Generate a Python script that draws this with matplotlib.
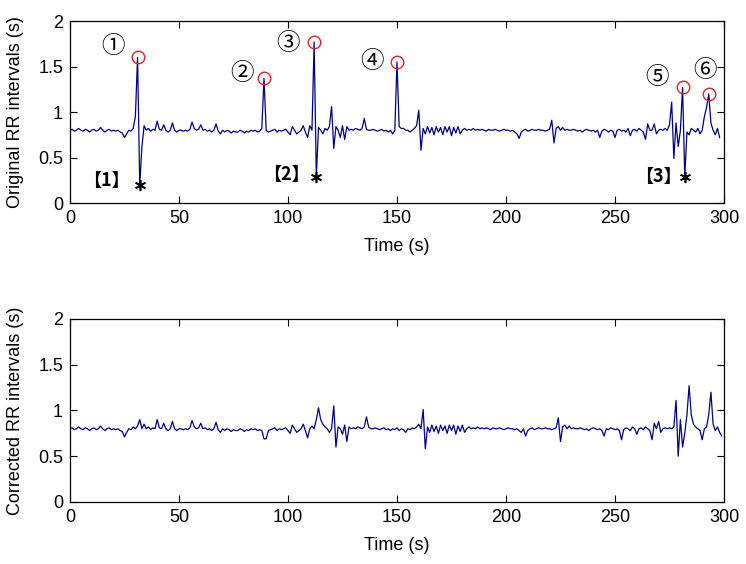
import numpy as np
import matplotlib
matplotlib.use("Agg")
import matplotlib.pyplot as plt

plt.rcParams['font.family'] = ['Liberation Sans', 'DejaVu Sans']

# original RR intervals (s), one value per second, t = 0..298
rr_original = [
    0.80, 0.81, 0.79, 0.80, 0.82, 0.80, 0.79, 0.81, 0.80, 0.78,
    0.80, 0.81, 0.79, 0.80, 0.83, 0.80, 0.78, 0.80, 0.81, 0.79,
    0.80, 0.79, 0.80, 0.78, 0.77, 0.72, 0.76, 0.80, 0.79, 0.82,
    0.95, 1.60, 0.20, 0.62, 0.85, 0.80, 0.82, 0.79, 0.81, 0.80,
    0.90, 0.81, 0.80, 0.86, 0.80, 0.78, 0.80, 0.88, 0.80, 0.78,
    0.80, 0.80, 0.79, 0.80, 0.79, 0.81, 0.89, 0.82, 0.80, 0.81,
    0.86, 0.80, 0.81, 0.79, 0.80, 0.78, 0.80, 0.87, 0.79, 0.76,
    0.80, 0.78, 0.80, 0.79, 0.77, 0.79, 0.78, 0.78, 0.80, 0.79,
    0.77, 0.79, 0.78, 0.80, 0.79, 0.80, 0.78, 0.79, 0.82, 1.37,
    0.80, 0.78, 0.79, 0.80, 0.81, 0.78, 0.80, 0.79, 0.80, 0.81,
    0.78, 0.75, 0.84, 0.80, 0.76, 0.78, 0.80, 0.85, 0.78, 0.72,
    0.85, 0.80, 1.77, 0.29, 0.83, 0.80, 0.76, 0.82, 0.80, 0.84,
    1.06, 0.60, 0.84, 0.80, 0.72, 0.85, 0.70, 0.84, 0.80, 0.81,
    0.80, 0.82, 0.81, 0.80, 0.82, 0.93, 0.81, 0.80, 0.80, 0.81,
    0.80, 0.79, 0.80, 0.81, 0.79, 0.80, 0.78, 0.80, 0.76, 0.80,
    1.55, 0.84, 0.82, 0.82, 0.80, 0.80, 0.78, 0.80, 0.82, 0.85,
    1.02, 0.58, 0.82, 0.76, 0.84, 0.77, 0.83, 0.75, 0.84, 0.78,
    0.83, 0.75, 0.84, 0.78, 0.84, 0.74, 0.83, 0.77, 0.84, 0.76,
    0.80, 0.82, 0.80, 0.81, 0.80, 0.82, 0.80, 0.81, 0.80, 0.81,
    0.80, 0.79, 0.81, 0.80, 0.80, 0.81, 0.80, 0.79, 0.80, 0.81,
    0.80, 0.80, 0.79, 0.80, 0.78, 0.76, 0.71, 0.78, 0.80, 0.81,
    0.79, 0.80, 0.81, 0.80, 0.80, 0.81, 0.80, 0.80, 0.79, 0.80,
    0.81, 0.91, 0.66, 0.82, 0.84, 0.80, 0.83, 0.80, 0.81, 0.80,
    0.80, 0.81, 0.80, 0.79, 0.80, 0.78, 0.80, 0.81, 0.80, 0.79,
    0.80, 0.78, 0.80, 0.72, 0.79, 0.81, 0.80, 0.78, 0.80, 0.79,
    0.72, 0.80, 0.81, 0.79, 0.80, 0.78, 0.82, 0.74, 0.80, 0.81,
    0.79, 0.82, 0.80, 0.78, 0.70, 0.87, 0.80, 0.80, 0.87, 0.76,
    0.80, 0.81, 0.80, 0.82, 0.80, 0.86, 1.11, 0.49, 0.88, 0.62,
    0.80, 1.27, 0.29, 0.78, 0.75, 0.82, 0.80, 0.78, 0.82, 0.76,
    0.80, 0.95, 1.05, 1.20, 0.88, 0.80, 0.75, 0.82, 0.72,
]

# corrected RR intervals (s), t = 0..299
rr_corrected = [
    0.80, 0.81, 0.79, 0.80, 0.82, 0.80, 0.79, 0.81, 0.80, 0.78,
    0.80, 0.81, 0.79, 0.80, 0.83, 0.80, 0.78, 0.80, 0.81, 0.79,
    0.80, 0.79, 0.80, 0.78, 0.77, 0.71, 0.76, 0.80, 0.79, 0.82,
    0.80, 0.83, 0.90, 0.80, 0.85, 0.80, 0.82, 0.79, 0.81, 0.80,
    0.90, 0.81, 0.80, 0.86, 0.80, 0.78, 0.80, 0.88, 0.80, 0.78,
    0.80, 0.80, 0.79, 0.80, 0.79, 0.81, 0.89, 0.82, 0.80, 0.81,
    0.86, 0.80, 0.81, 0.79, 0.80, 0.78, 0.80, 0.87, 0.79, 0.76,
    0.80, 0.78, 0.80, 0.79, 0.77, 0.79, 0.78, 0.78, 0.80, 0.79,
    0.77, 0.79, 0.78, 0.80, 0.79, 0.80, 0.78, 0.79, 0.78, 0.69,
    0.69, 0.78, 0.79, 0.80, 0.81, 0.78, 0.80, 0.79, 0.80, 0.81,
    0.78, 0.75, 0.84, 0.80, 0.76, 0.78, 0.80, 0.85, 0.78, 0.70,
    0.80, 0.83, 0.80, 0.90, 1.03, 0.90, 0.85, 0.82, 0.80, 0.76,
    0.80, 1.05, 0.60, 0.82, 0.80, 0.74, 0.84, 0.66, 0.82, 0.80,
    0.81, 0.80, 0.82, 0.81, 0.80, 0.82, 0.93, 0.82, 0.80, 0.80,
    0.81, 0.80, 0.79, 0.80, 0.81, 0.79, 0.80, 0.78, 0.80, 0.79,
    0.81, 0.78, 0.80, 0.79, 0.76, 0.80, 0.79, 0.81, 0.80, 0.82,
    0.85, 0.80, 1.01, 0.58, 0.82, 0.76, 0.84, 0.77, 0.83, 0.75,
    0.84, 0.78, 0.83, 0.75, 0.84, 0.78, 0.84, 0.74, 0.83, 0.77,
    0.84, 0.76, 0.80, 0.82, 0.80, 0.81, 0.80, 0.82, 0.80, 0.81,
    0.80, 0.81, 0.80, 0.79, 0.81, 0.80, 0.80, 0.81, 0.80, 0.79,
    0.80, 0.81, 0.80, 0.80, 0.79, 0.80, 0.78, 0.76, 0.80, 0.72,
    0.78, 0.80, 0.81, 0.79, 0.80, 0.81, 0.80, 0.80, 0.81, 0.80,
    0.80, 0.79, 0.80, 0.81, 0.92, 0.66, 0.82, 0.84, 0.80, 0.83,
    0.80, 0.81, 0.80, 0.80, 0.81, 0.80, 0.79, 0.80, 0.78, 0.80,
    0.81, 0.80, 0.79, 0.80, 0.78, 0.72, 0.80, 0.79, 0.81, 0.80,
    0.79, 0.80, 0.78, 0.68, 0.79, 0.81, 0.80, 0.78, 0.82, 0.80,
    0.74, 0.80, 0.81, 0.79, 0.82, 0.80, 0.78, 0.68, 0.86, 0.80,
    0.88, 0.76, 0.80, 0.81, 0.80, 0.81, 0.80, 0.82, 1.11, 0.50,
    0.90, 0.60, 0.75, 0.95, 1.27, 0.95, 0.85, 0.82, 0.80, 0.78,
    0.68, 0.80, 0.82, 0.95, 1.20, 0.85, 0.78, 0.82, 0.76, 0.72,
]

# detected artefacts (sample index in rr_original)
long_idx = [31, 89, 112, 150, 281, 293]
short_idx = [32, 113, 282]

long_labels = ["①", "②", "③", "④", "⑤", "⑥"]
long_label_pos = [(19.9, 1.72), (78.8, 1.425), (100.2, 1.755),
                  (138.4, 1.55), (269.1, 1.38), (291.3, 1.46)]
short_labels = ["【1】", "【2】", "【3】"]
short_label_pos = [(16.8, 0.25), (99.4, 0.31), (269.9, 0.29)]

t_orig = np.arange(len(rr_original))
t_corr = np.arange(len(rr_corrected))
line_color = '#000080'

fig = plt.figure(figsize=(7.46, 5.64), dpi=100)
ax1 = fig.add_axes([0.0938, 0.640, 0.8767, 0.3227])
ax2 = fig.add_axes([0.0938, 0.110, 0.8767, 0.3245])

ax1.plot(t_orig, rr_original, color=line_color, lw=0.9)
ax1.plot(t_orig[long_idx], np.array(rr_original)[long_idx], 'o', ms=9,
         mfc='none', mec='#e02030', mew=1.0)
ax1.plot(t_orig[short_idx], np.array(rr_original)[short_idx], ls='none',
         marker=(6, 2, 0), ms=8, mec='black', mew=1.2)

for lab, (x, y) in zip(long_labels, long_label_pos):
    ax1.text(x, y, lab, fontsize=17, ha='center', va='center',
             family=['Noto Sans CJK SC', 'DejaVu Sans'])
for lab, (x, y) in zip(short_labels, short_label_pos):
    ax1.text(x, y, lab, fontsize=13, fontweight='bold', ha='center', va='center',
             family=['Noto Sans CJK SC', 'DejaVu Sans'])

ax2.plot(t_corr, rr_corrected, color=line_color, lw=0.9)

for ax, lab in [(ax1, "Original RR intervals (s)"), (ax2, "Corrected RR intervals (s)")]:
    ax.set_xlim(0, 300)
    ax.set_ylim(0, 2)
    ax.set_xticks([0, 50, 100, 150, 200, 250, 300])
    ax.set_yticks([0, 0.5, 1, 1.5, 2])
    ax.set_yticklabels(["0", "0.5", "1", "1.5", "2"])
    ax.tick_params(direction='in', length=5, top=True, right=True, labelsize=13, pad=5)
    ax.set_xlabel("Time (s)", fontsize=13, labelpad=8)
    ax.set_ylabel(lab, fontsize=13, labelpad=10)
    for s in ax.spines.values():
        s.set_linewidth(0.9)

fig.savefig("out.png", dpi=100)
